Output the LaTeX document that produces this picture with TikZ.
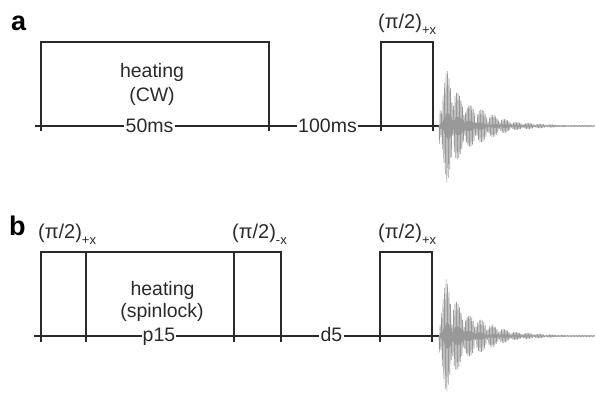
\documentclass[tikz,border=0pt]{standalone}
\usepackage{fontspec}
\setmainfont{Liberation Sans}
\definecolor{ink}{HTML}{2A2A2A}
\definecolor{fidgray}{HTML}{999999}
\newcommand{\pitwo}[1]{(π/2)\raisebox{-6pt}{\fontsize{13}{13}\selectfont #1}}
\tikzset{
  declare function={
    lobe(\t)=0.1+0.9*sqrt(abs(cos(180*mod(\t-439,11.7)/11.7-123)));
    rise(\t)=min(1,0.4+(\t-439)/13);
    fidamp(\t)=max(0.8,58*exp(-max(\t-447,0)/28)*lobe(\t)*rise(\t));
    fast(\t)=sin(240*mod(\t-439,1.5));
  },
  lab/.style={anchor=base,inner sep=1pt,font=\fontsize{19.5}{19.5}\selectfont,text=ink},
  plab/.style={anchor=base west,inner sep=0pt,font=\fontsize{20}{20}\selectfont,text=ink},
  panel/.style={anchor=base west,inner sep=0pt,font=\fontsize{27}{27}\selectfont\bfseries,text=black},
  wire/.style={draw=ink,line width=1.6pt},
  pulse/.style={draw=ink,line width=2pt,line join=miter},
  fid/.style={draw=fidgray,line width=0.6pt,line join=round}
}
\begin{document}
\begin{tikzpicture}[x=1pt,y=-1pt]
\useasboundingbox (0,0) rectangle (595,399);
% panel a
\node[panel] (pa) at (11,30) {a};
\coordinate (as) at (35,126);
\coordinate (ae) at (439,126);
\node[lab] (ah) at (152,77) {heating};
\node[lab] (ac) at (152,101) {(CW)};
\node[lab] (at1) at (149.5,132.5) {50ms};
\node[lab] (at2) at (327.5,132.5) {100ms};
\node[plab] (ap) at (378,28) {\pitwo{+x}};
\draw[wire] (as) -- (as -| at1.west) (as -| at1.east) -- (as -| at2.west) (as -| at2.east) -- (ae);
\draw[pulse] (41,131) -- (41,41.5) -- (268.5,41.5) -- (268.5,131);
\draw[pulse] (380.5,131) -- (380.5,41.5) -- (432.5,41.5) -- (432.5,131);
\draw[fid] plot[domain=439:595,samples=420] (\x,{126+fidamp(\x)*fast(\x)});
% panel b
\node[panel] (pb) at (9,235) {b};
\coordinate (bs) at (34,336);
\coordinate (be) at (439,336);
\node[lab] (bh) at (162.5,295) {heating};
\node[lab] (bc) at (162,317) {(spinlock)};
\node[lab] (bt1) at (159,341) {p15};
\node[lab] (bt2) at (331.5,341.5) {d5};
\node[plab] (bp1) at (38,238) {\pitwo{+x}};
\node[plab] (bp2) at (232,238) {\pitwo{-x}};
\node[plab] (bp3) at (378,238) {\pitwo{+x}};
\draw[wire] (bs) -- (bs -| bt1.west) (bs -| bt1.east) -- (bs -| bt2.west) (bs -| bt2.east) -- (be);
\draw[pulse] (40.5,341.5) -- (40.5,251.5) -- (281,251.5) -- (281,341.5);
\draw[pulse] (86,251.5) -- (86,341.5);
\draw[pulse] (234,251.5) -- (234,341.5);
\draw[pulse] (379.5,341.5) -- (379.5,251.5) -- (432,251.5) -- (432,341.5);
\draw[fid] plot[domain=439:595,samples=420] (\x,{336+fidamp(\x+0.7)*fast(\x)});
\end{tikzpicture}
\end{document}
